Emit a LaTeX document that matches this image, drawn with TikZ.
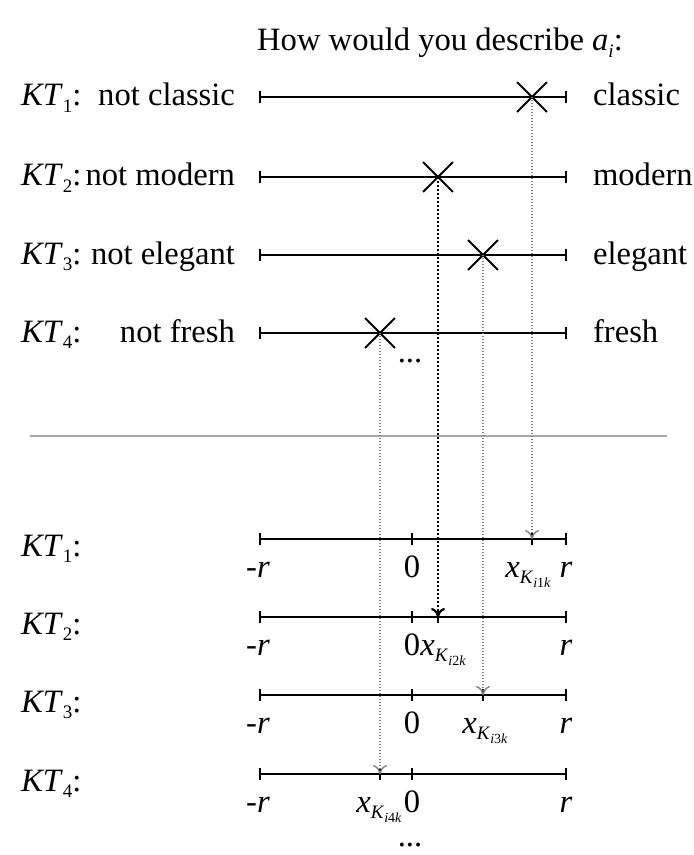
\documentclass[tikz,border=0pt]{standalone}
\usepackage{fontspec}
\setmainfont{Liberation Serif}[ItalicFont={Liberation Serif Italic}]
\usetikzlibrary{arrows.meta, shapes.misc}

\newcommand{\lowsub}[1]{\raisebox{-0.45ex}{\fontsize{9.5}{10}\selectfont #1}}
\newcommand{\KT}[1]{\textit{KT}\lowsub{#1}:}
\newcommand{\xk}[1]{\textit{x}\lowsub{\textit{K}\lowsub{\fontsize{7}{8}\selectfont\textit{i}#1\textit{k}}}}

\tikzset{
  scaleline/.style={line width=1.2pt},
  tickmark/.style={line width=1.1pt},
  mark x/.style={draw, cross out, line width=0.9pt, inner sep=0pt, minimum size=14pt},
  proj/.style={gray, line width=0.7pt, dash pattern=on 0.7pt off 0.8pt, -{To[length=4.5pt,width=7pt]}},
  projdark/.style={black, line width=1.1pt, dash pattern=on 1pt off 1pt, -{To[length=4.5pt,width=7pt]}},
}

\begin{document}
\begin{tikzpicture}[x=0.5pt, y=-0.5pt, font=\fontsize{16.3}{19}\selectfont]
\useasboundingbox (0,0) rectangle (694,855);
\node[anchor=base] (title) at (440,51) {How would you describe \textit{a}\lowsub{\textit{i}}:};
% rating scales
\foreach \i/\y/\lo/\hi/\m in {1/97/not classic/classic/532, 2/177/not modern/modern/438, 3/255/not elegant/elegant/483, 4/333/not fresh/fresh/380} {
  \node[anchor=base west] (kt\i) at (14,\y+9) {\KT{\i}};
  \node[anchor=base east] (lo\i) at (242,\y+9) {\lo};
  \node[anchor=base west] (hi\i) at (586,\y+9) {\hi};
  \draw[scaleline] (260,\y) -- (566,\y);
  \draw[tickmark] (260,\y-6) -- (260,\y+6) (566,\y-6) -- (566,\y+6);
  \node[mark x] (m\i) at (\m,\y) {};
}
\node[anchor=base] (dots1) at (410,362) {...};
\draw[gray!70, line width=1pt] (30,436) -- (667,436);
% mapped values
\foreach \i/\y/\m in {1/539/532, 2/617/438, 3/695/483, 4/774/380} {
  \node[anchor=base west] (bkt\i) at (14,\y+17) {\KT{\i}};
  \draw[scaleline] (260,\y) -- (566,\y);
  \foreach \t in {260,412,\m,566} \draw[tickmark] (\t,\y-6) -- (\t,\y+6);
  \coordinate (t\i) at (\m,\y);
  \node[anchor=base] (mr\i) at (258,\y+38) {-\textit{r}};
  \node[anchor=base] (z\i) at (412,\y+38) {0};
  \node[anchor=base] (r\i) at (566,\y+38) {\textit{r}};
}
\node[anchor=base] (xk1) at (528,577) {\xk{1}};
\node[anchor=base west, inner sep=0pt] (xk2) at (420,655) {\xk{2}};
\node[anchor=base] (xk3) at (485,733) {\xk{3}};
\node[anchor=base east, inner sep=0pt] (xk4) at (402,812) {\xk{4}};
\node[anchor=base] (dots2) at (410,846) {...};
\draw[proj] (m1.center) -- (t1);
\draw[projdark] (m2.center) -- (t2);
\draw[proj] (m3.center) -- (t3);
\draw[proj] (m4.center) -- (t4);
\end{tikzpicture}
\end{document}
